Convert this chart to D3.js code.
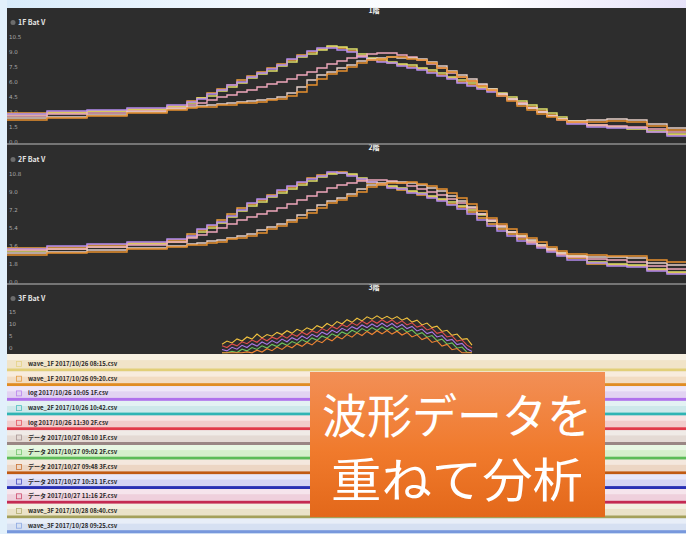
<!DOCTYPE html>
<html>
<head>
<meta charset="utf-8">
<script src="https://cdn.jsdelivr.net/npm/d3@7"></script>
<style>
  html, body { margin: 0; padding: 0; background: #e2f0fb; }
  svg { display: block; }
  text { font-family: "Noto Sans CJK JP", "Noto Sans", sans-serif; }
</style>
</head>
<body>
<svg id="chart" width="686" height="534"></svg>
<script>
// ---- sample times (s) shared by the 1F / 2F battery traces ----
const time = [0, 2, 4, 6, 8, 9, 9.5, 10, 10.5, 11, 11.5, 12, 12.5, 13, 13.5, 14, 14.5, 15, 15.5, 16,
  16.5, 17, 17.5, 18, 18.5, 19, 19.5, 20, 20.5, 21, 21.5, 22, 22.5, 23, 23.5, 24, 24.5, 25, 25.5, 26,
  26.5, 27, 27.5, 28, 29, 30, 31, 32, 33, 34];

// ---- 1F battery ----
const f1A1 = [2.9, 3.0, 3.1, 3.3, 3.6, 4.1, 4.4, 4.9, 5.3, 5.7, 6.2, 6.6, 7.0, 7.4, 7.8, 8.2, 8.7, 9.0, 9.3, 9.5,
  9.4, 9.1, 8.6, 8.3, 8.1, 7.9, 7.7, 7.5, 7.3, 7.0, 6.7, 6.4, 6.0, 5.7, 5.4, 5.1, 4.7, 4.3, 3.9, 3.5,
  3.1, 2.7, 2.3, 1.9, 1.6, 1.5, 1.4, 1.0, 0.7, 0.5];
const f1A2 = [2.7, 2.9, 3.1, 3.2, 3.5, 3.9, 4.4, 4.6, 5.1, 5.5, 5.9, 6.4, 6.8, 7.1, 7.6, 8.0, 8.5, 8.8, 9.2, 9.6,
  9.5, 9.3, 8.8, 8.4, 8.3, 8.0, 7.8, 7.7, 7.4, 7.2, 6.9, 6.5, 6.2, 5.9, 5.5, 5.3, 4.9, 4.5, 4.1, 3.7,
  3.3, 2.9, 2.5, 2.1, 1.7, 1.5, 1.3, 1.1, 0.8, 0.6];
const f1A3 = [2.8, 3.1, 3.2, 3.4, 3.7, 4.0, 4.3, 4.8, 5.2, 5.7, 6.0, 6.5, 6.9, 7.3, 7.7, 8.3, 8.6, 9.1, 9.4, 9.4,
  9.2, 9.0, 8.5, 8.2, 8.0, 7.9, 7.6, 7.4, 7.2, 6.9, 6.6, 6.3, 5.9, 5.6, 5.3, 5.0, 4.6, 4.2, 3.8, 3.4,
  3.0, 2.6, 2.2, 1.8, 1.5, 1.4, 1.4, 1.0, 0.6, 0.4];
const f1C = [2.6, 2.8, 2.9, 3.1, 3.4, 3.7, 3.9, 4.2, 4.5, 4.7, 5.0, 5.2, 5.5, 5.8, 6.0, 6.3, 6.7, 7.0, 7.4, 7.8,
  8.1, 8.4, 8.6, 8.8, 8.9, 8.9, 8.7, 8.5, 8.2, 7.8, 7.4, 6.9, 6.5, 6.1, 5.7, 5.2, 4.8, 4.3, 3.9, 3.4,
  3.0, 2.6, 2.3, 2.0, 1.7, 1.6, 1.5, 1.3, 1.0, 0.8];
const f1B1 = [2.4, 2.5, 2.7, 3.0, 3.3, 3.5, 3.6, 3.7, 3.8, 3.9, 4.0, 4.1, 4.2, 4.3, 4.5, 4.9, 5.5, 6.2, 6.7, 7.0,
  7.4, 7.7, 8.1, 8.3, 8.4, 8.5, 8.4, 8.4, 8.3, 8.0, 7.6, 7.1, 6.7, 6.3, 5.8, 5.3, 4.8, 4.3, 3.8, 3.4,
  3.0, 2.6, 2.3, 2.1, 2.2, 2.3, 2.2, 1.8, 1.4, 1.2];
const f1B2 = [2.2, 2.4, 2.6, 2.9, 3.2, 3.4, 3.5, 3.5, 3.7, 3.7, 3.9, 3.9, 4.0, 4.2, 4.3, 4.6, 5.0, 5.7, 6.3, 6.8,
  7.1, 7.5, 7.9, 8.2, 8.3, 8.5, 8.5, 8.3, 8.2, 7.9, 7.4, 7.0, 6.5, 6.1, 5.6, 5.2, 4.6, 4.1, 3.6, 3.2,
  2.8, 2.5, 2.2, 2.0, 2.0, 2.1, 2.0, 1.6, 1.2, 0.9];

// ---- 2F battery ----
const f2A1 = [3.4, 3.5, 3.7, 3.9, 4.2, 4.8, 5.2, 5.6, 6.2, 6.8, 7.4, 7.8, 8.2, 8.7, 9.1, 9.5, 9.9, 10.4, 10.7, 10.9,
  11.0, 10.7, 10.2, 9.9, 9.7, 9.5, 9.2, 9.0, 8.7, 8.5, 8.2, 7.8, 7.5, 7.0, 6.4, 5.8, 5.3, 4.8, 4.3, 3.9,
  3.5, 3.1, 2.7, 2.4, 1.8, 1.7, 1.6, 1.2, 0.9, 0.7];
const f2A2 = [3.1, 3.3, 3.5, 3.8, 4.0, 4.5, 5.0, 5.4, 5.9, 6.5, 7.1, 7.6, 8.0, 8.5, 8.9, 9.3, 9.7, 10.1, 10.5, 10.8,
  10.9, 10.8, 10.4, 10.0, 9.8, 9.6, 9.4, 9.1, 8.9, 8.6, 8.3, 8.0, 7.6, 7.2, 6.7, 6.1, 5.6, 5.0, 4.6, 4.1,
  3.7, 3.3, 2.9, 2.6, 2.0, 1.8, 1.7, 1.3, 1.0, 0.6];
const f2A3 = [3.3, 3.6, 3.8, 4.0, 4.3, 4.6, 5.3, 5.7, 6.0, 6.6, 7.2, 7.9, 8.3, 8.6, 9.2, 9.6, 10.0, 10.3, 10.6, 11.0,
  10.9, 10.6, 10.3, 10.0, 9.8, 9.4, 9.3, 8.9, 8.8, 8.4, 8.1, 7.7, 7.3, 6.8, 6.2, 5.6, 5.1, 4.6, 4.1, 3.8,
  3.4, 3.0, 2.6, 2.2, 1.9, 1.6, 1.5, 1.1, 0.8, 0.5];
const f2C = [3.2, 3.3, 3.5, 3.7, 4.0, 4.4, 4.7, 5.0, 5.4, 5.8, 6.2, 6.5, 6.8, 7.1, 7.4, 7.8, 8.2, 8.6, 9.0, 9.4,
  9.7, 9.9, 10.1, 10.2, 10.2, 10.1, 9.9, 9.6, 9.3, 9.0, 8.7, 8.3, 7.9, 7.4, 6.8, 6.2, 5.6, 5.0, 4.5, 4.0,
  3.6, 3.2, 2.8, 2.5, 2.3, 2.2, 2.0, 1.6, 1.3, 1.2];
const f2B1 = [2.9, 3.0, 3.2, 3.4, 3.6, 3.8, 3.9, 4.1, 4.2, 4.4, 4.6, 4.8, 5.2, 5.5, 5.8, 6.2, 6.7, 7.2, 7.7, 8.1,
  8.4, 8.8, 9.3, 9.7, 9.9, 10.0, 10.0, 9.9, 9.7, 9.4, 9.1, 8.6, 8.1, 7.5, 6.8, 6.1, 5.5, 5.0, 4.6, 4.2,
  3.7, 3.3, 2.9, 2.6, 2.5, 2.5, 2.4, 1.9, 1.7, 1.9];
const f2B2 = [2.7, 2.9, 3.0, 3.3, 3.5, 3.7, 3.7, 3.9, 4.0, 4.3, 4.4, 4.6, 4.9, 5.3, 5.6, 6.0, 6.4, 6.9, 7.4, 7.9,
  8.2, 8.6, 9.0, 9.5, 9.8, 9.9, 9.9, 10.0, 9.8, 9.6, 9.3, 8.9, 8.4, 7.8, 7.1, 6.4, 5.8, 5.3, 4.8, 4.4,
  4.0, 3.5, 3.1, 2.8, 2.7, 2.6, 2.6, 2.2, 2.0, 2.2];

// ---- 3F battery (fast sampled burst) ----
const time3 = [10.75, 11, 11.25, 11.5, 11.75, 12, 12.25, 12.5, 12.75, 13, 13.25, 13.5, 13.75, 14, 14.25, 14.5,
  14.75, 15, 15.25, 15.5, 15.75, 16, 16.25, 16.5, 16.75, 17, 17.25, 17.5, 17.75, 18, 18.25, 18.5, 18.75, 19,
  19.25, 19.5, 19.75, 20, 20.25, 20.5, 20.75, 21, 21.25, 21.5, 21.75, 22, 22.25, 22.5, 22.75, 23, 23.25];
const f3a = [1.6, 2.9, 2.1, 3.8, 2.9, 4.6, 3.7, 5.8, 4.2, 5.6, 4.9, 6.5, 5.6, 7.2, 6.1, 7.8, 6.9, 8.4, 7.5, 9.3,
  8.4, 10.2, 9.1, 11.0, 10.0, 11.8, 10.7, 12.4, 11.3, 13.0, 12.0, 13.4, 12.1, 13.2, 12.0, 13.1, 11.6, 12.5, 10.8, 11.6,
  9.6, 10.4, 8.5, 9.1, 6.9, 7.4, 5.3, 5.8, 3.6, 3.9, 1.2];
const f3b = [0.9, 0.2, 1.7, 0.9, 2.6, 1.8, 3.3, 2.4, 4.1, 3.0, 4.5, 3.7, 5.2, 4.1, 5.8, 4.9, 6.6, 5.5, 7.2, 6.3,
  8.1, 7.1, 9.0, 8.0, 9.8, 8.8, 10.5, 9.4, 11.2, 10.0, 11.5, 10.3, 11.8, 10.5, 11.7, 10.1, 11.3, 9.6, 10.5, 8.7,
  9.4, 7.5, 8.2, 6.1, 6.7, 4.6, 5.1, 2.9, 3.4, 1.2, 0.0];
const f3c = [-0.6, -1.2, 0.3, -0.5, 1.1, 0.2, 1.8, 0.8, 2.5, 1.5, 3.1, 2.0, 3.7, 2.6, 4.3, 3.3, 5.0, 3.9, 5.7, 4.7,
  6.6, 5.6, 7.4, 6.4, 8.2, 7.2, 8.9, 7.9, 9.6, 8.5, 10.0, 8.8, 10.3, 8.9, 10.2, 8.6, 9.8, 8.1, 9.0, 7.1,
  7.9, 6.0, 6.7, 4.6, 5.2, 3.1, 3.6, 1.4, 1.9, -0.3, -1.5];
const f3d = [-2.0, -2.0, -1.4, -1.9, -0.5, -1.2, 0.2, -0.6, 0.9, 0.0, 1.5, 0.6, 2.1, 1.1, 2.7, 1.8, 3.5, 2.4, 4.2, 3.2,
  5.0, 4.1, 5.9, 4.9, 6.7, 5.7, 7.4, 6.4, 8.1, 7.0, 8.5, 7.3, 8.8, 7.4, 8.7, 7.1, 8.3, 6.6, 7.5, 5.6,
  6.4, 4.5, 5.2, 3.1, 3.7, 1.6, 2.1, -0.1, 0.4, -1.8, -2.0];
const f3e = [-2.0, -2.0, -2.0, -2.0, -2.0, -1.6, -2.0, -0.9, -1.7, -0.3, -1.1, 0.4, -0.6, 1.0, 0.1, 1.7, 0.7, 2.3, 1.3, 3.1,
  2.2, 4.0, 3.0, 4.8, 3.8, 5.6, 4.5, 6.3, 5.2, 6.9, 5.6, 7.2, 5.9, 7.3, 5.8, 7.0, 5.4, 6.5, 4.6, 5.5,
  3.5, 4.4, 2.3, 3.0, 0.8, 1.5, -0.7, -0.2, -2.0, -2.0, -2.0];

// ---- series colours ----
const traceColors = ["#f0a23c", "#dfe06a", "#b48cf0", "#f0a8bc", "#e6cfc8", "#e8902e"];
const burstColors = ["#f2c23e", "#e0504e", "#a878e6", "#6cc45e", "#f08432"];

// ---- axis ticks ----
const ticks1 = [0, 1.5, 3, 4.5, 6, 7.5, 9, 10.5];
const ticks2 = [0, 1.8, 3.6, 5.4, 7.2, 9.0, 10.8];
const ticks3 = [0, 5, 10, 15];

// ---- file list ----
const fileNames = [
  "wave_1F 2017/10/26 08:15.csv",
  "wave_1F 2017/10/26 09:20.csv",
  "log 2017/10/26 10:05 1F.csv",
  "wave_2F 2017/10/26 10:42.csv",
  "log 2017/10/26 11:30 2F.csv",
  "データ 2017/10/27 08:10 1F.csv",
  "データ 2017/10/27 09:02 2F.csv",
  "データ 2017/10/27 09:48 3F.csv",
  "データ 2017/10/27 10:31 1F.csv",
  "データ 2017/10/27 11:16 2F.csv",
  "wave_3F 2017/10/28 08:40.csv",
  "wave_3F 2017/10/28 09:25.csv"
];
const fileColors = ["#e2cf78", "#e08c22", "#b070ec", "#2fb4b4", "#e23a4a", "#9a8684",
  "#5cbc58", "#c05a12", "#2830b4", "#c42a52", "#a4a05a", "#7898dc"];
const fileTints = ["#f1e4c8", "#f2dcc2", "#e2d2f2", "#cde8ea", "#f2cccc", "#e4dad4",
  "#d6f0cc", "#ecd6c4", "#d4d4f4", "#efd0dc", "#eae2c8", "#d6e0f2"];

const headline = ["波形データを", "重ねて分析"];

// ================= drawing =================
const svg = d3.select("#chart");
const defs = svg.append("defs");

const topGrad = defs.append("linearGradient").attr("id", "topGrad");
topGrad.selectAll("stop").data([["0%", "#d8ebfa"], ["35%", "#f2f8fe"], ["70%", "#ffffff"], ["100%", "#e6e2f8"]])
  .join("stop").attr("offset", d => d[0]).attr("stop-color", d => d[1]);

const boxGrad = defs.append("linearGradient").attr("id", "boxGrad")
  .attr("x1", 0).attr("y1", 0).attr("x2", 0).attr("y2", 1);
boxGrad.selectAll("stop").data([["0%", "#f28f56"], ["55%", "#f07a2c"], ["100%", "#e3681a"]])
  .join("stop").attr("offset", d => d[0]).attr("stop-color", d => d[1]);

const soft = defs.append("filter").attr("id", "soft");
soft.append("feGaussianBlur").attr("stdDeviation", 0.35);

// page background
svg.append("rect").attr("width", 686).attr("height", 534).attr("fill", "#e2f0fb");
svg.append("rect").attr("x", 7).attr("width", 679).attr("height", 8).attr("fill", "url(#topGrad)");

// dark plotting window
svg.append("rect").attr("x", 7).attr("y", 8).attr("width", 679).attr("height", 346).attr("fill", "#2d2d2d");

const x = d3.scaleLinear().domain([0, 34]).range([7, 687]);

const panels = [
  { title: "1階", label: "1F Bat V", top: 8, bottom: 144, titleY: 13, labelY: 25,
    y: d3.scaleLinear().domain([0, 11]).range([142, 32]), ticks: ticks1, fmt: d3.format(".1f"),
    t: time, series: [f1A1, f1A2, f1A3, f1C, f1B1, f1B2], colors: traceColors, step: true },
  { title: "2階", label: "2F Bat V", top: 145, bottom: 284, titleY: 150, labelY: 162,
    y: d3.scaleLinear().domain([0, 11.2]).range([282, 170]), ticks: ticks2, fmt: d3.format(".1f"),
    t: time, series: [f2A1, f2A2, f2A3, f2C, f2B1, f2B2], colors: traceColors, step: true },
  { title: "3階", label: "3F Bat V", top: 285, bottom: 354, titleY: 290, labelY: 301,
    y: d3.scaleLinear().domain([-2, 20]).range([352.8, 300]), ticks: ticks3, fmt: d3.format("d"),
    t: time3, series: [f3a, f3b, f3c, f3d, f3e], colors: burstColors, step: false }
];

panels.forEach((p, i) => {
  const g = svg.append("g");
  const clipId = "clip" + i;
  defs.append("clipPath").attr("id", clipId).append("rect")
    .attr("x", 7).attr("y", p.top).attr("width", 679).attr("height", p.bottom - p.top);

  // value axis, labels sitting inside the left edge
  const ax = g.append("g").attr("transform", "translate(9,0)")
    .call(d3.axisRight(p.y).tickValues(p.ticks).tickSize(0).tickPadding(0).tickFormat(p.fmt));
  ax.select(".domain").remove();
  ax.selectAll("text").attr("fill", "#a9a9a9").attr("font-size", 5.5)
    .style("font-family", "DejaVu Sans, sans-serif");

  // panel caption and channel label
  g.append("text").attr("x", 374).attr("y", p.titleY).attr("text-anchor", "middle")
    .attr("fill", "#f2f2f2").attr("font-size", 7).attr("font-weight", 700).text(p.title);
  g.append("circle").attr("cx", 13).attr("cy", p.labelY - 2.5).attr("r", 2.5).attr("fill", "#6c6c6c");
  g.append("text").attr("x", 18).attr("y", p.labelY).attr("fill", "#e4e4e4")
    .attr("font-size", 7).attr("font-weight", 700).text(p.label);

  const line = d3.line()
    .x((d, k) => x(p.t[k]))
    .y(d => p.y(d))
    .curve(p.step ? d3.curveStepAfter : d3.curveLinear);

  g.append("g").attr("clip-path", `url(#${clipId})`).attr("filter", "url(#soft)")
    .selectAll("path").data(p.series).join("path")
    .attr("d", line)
    .attr("fill", "none")
    .attr("stroke", (d, k) => p.colors[k])
    .attr("stroke-width", p.step ? 1.4 : 1.1)
    .attr("stroke-linejoin", "miter");
});

// panel separators
svg.selectAll("line.sep").data([144, 284]).join("line").attr("class", "sep")
  .attr("x1", 7).attr("x2", 686).attr("y1", d => d).attr("y2", d => d)
  .attr("stroke", "#8e8e8e").attr("stroke-width", 1.5);

// file list below the plots
const rowH = 14.7, firstBottom = 371.5;
const rows = svg.append("g").selectAll("g").data(fileNames).join("g");
rows.each(function (name, i) {
  const g = d3.select(this);
  const bottom = firstBottom + rowH * i;
  const top = i === 0 ? 354 : bottom - rowH;
  g.append("rect").attr("x", 7).attr("y", top).attr("width", 679).attr("height", bottom - top)
    .attr("fill", fileTints[i]);
  g.append("rect").attr("x", 7).attr("y", top).attr("width", 679).attr("height", (bottom - top) * 0.35)
    .attr("fill", "#ffffff").attr("opacity", 0.45);
  g.append("rect").attr("x", 7).attr("y", bottom - 3).attr("width", 679).attr("height", 3)
    .attr("fill", fileColors[i]);
  g.append("rect").attr("x", 16.5).attr("y", bottom - 10).attr("width", 5).attr("height", 5)
    .attr("fill", fileTints[i]).attr("stroke", fileColors[i]).attr("stroke-width", 0.8).attr("opacity", 0.8);
  g.append("text").attr("x", 28).attr("y", bottom - 5.5).attr("font-size", 6).attr("font-weight", 700)
    .attr("fill", "#2a2a2a").text(name);
});

// headline box
const box = svg.append("g");
box.append("rect").attr("x", 310).attr("y", 372).attr("width", 295).attr("height", 145)
  .attr("fill", "url(#boxGrad)");
box.selectAll("text").data(headline).join("text")
  .attr("x", 457).attr("y", (d, i) => i === 0 ? 433 : 497)
  .attr("text-anchor", "middle").attr("fill", "#ffffff").attr("font-size", 47)
  .attr("textLength", (d, i) => i === 0 ? 270 : 252).attr("lengthAdjust", "spacingAndGlyphs")
  .text(d => d);
</script>
</body>
</html>
